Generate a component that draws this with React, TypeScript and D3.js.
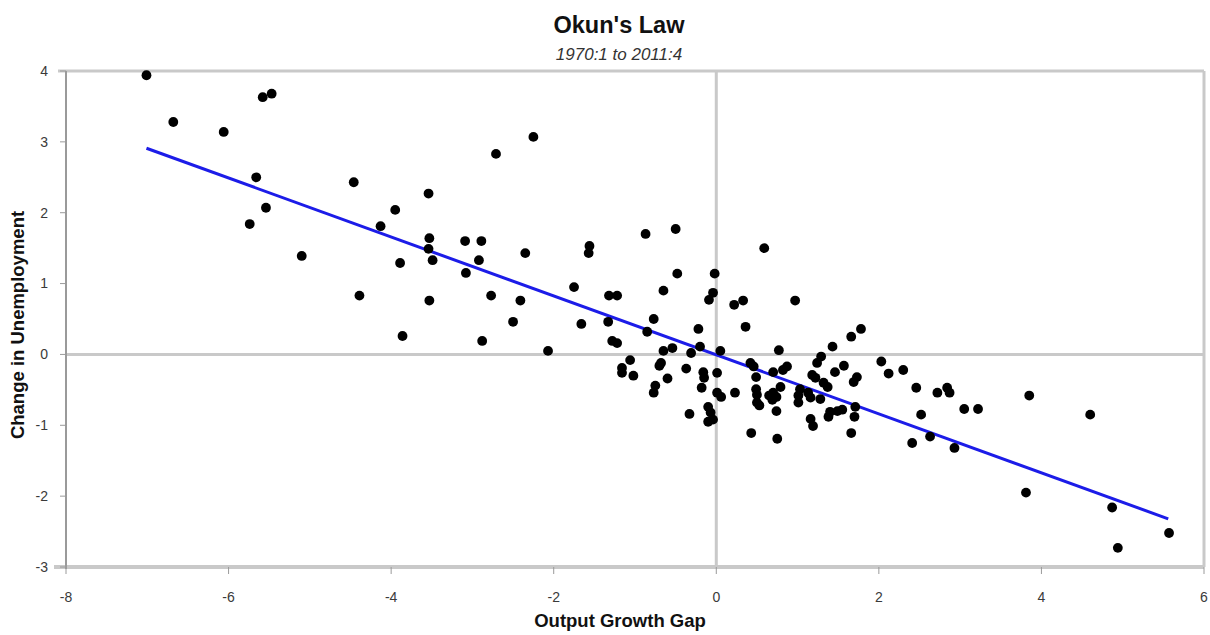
import * as d3 from "d3";

// output growth gap (x) and change in unemployment (y)
const gapX = [
  -7.01, -6.68, -6.06, -5.58, -5.47, -5.66, -5.54, -5.74, -5.1, -4.46,
  -3.95, -4.13, -4.39, -3.89, -3.86, -3.54, -3.53, -3.54, -3.49, -3.53,
  -3.09, -2.89, -2.92, -3.08, -2.88, -2.71, -2.25, -2.77, -2.41, -2.35,
  -2.5, -2.07, -1.56, -1.57, -1.75, -1.32, -1.22, -1.66, -1.33, -1.28,
  -1.22, -1.16, -1.16, -1.06, -1.02, -0.87, -0.5, -0.65, -0.48, -0.02,
  -0.04, -0.09, 0.22, -0.77, -0.85, -0.22, -0.65, -0.54, -0.31, -0.2,
  0.05, -0.7, -0.68, -0.37, -0.6, -0.16, -0.15, 0.01, -0.18, -0.75,
  -0.77, 0.01, 0.06, 0.23, -0.33, -0.1, -0.07, -0.1, -0.04, 0.59,
  0.33, 0.97, 0.36, 1.66, 1.78, 0.77, 1.43, 1.29, 1.24, 2.03,
  2.12, 0.42, 0.46, 0.87, 0.82, 0.7, 1.57, 1.46, 0.49, 1.18,
  1.22, 1.73, 1.69, 1.32, 1.37, 0.79, 0.7, 0.65, 0.49, 0.5,
  1.03, 1.01, 1.13, 1.16, 1.28, 0.74, 0.69, 0.5, 0.53, 1.01,
  1.4, 1.49, 1.55, 1.71, 1.7, 1.38, 0.74, 1.16, 1.19, 0.43,
  0.75, 1.66, 2.3, 2.46, 2.72, 2.84, 2.87, 3.05, 3.22, 3.85,
  4.6, 2.52, 2.41, 2.63, 2.93, 3.81, 4.87, 5.57, 4.94,
];
const unempY = [
  3.94, 3.28, 3.14, 3.63, 3.68, 2.5, 2.07, 1.84, 1.39, 2.43,
  2.04, 1.81, 0.83, 1.29, 0.26, 2.27, 1.64, 1.49, 1.33, 0.76,
  1.6, 1.6, 1.33, 1.15, 0.19, 2.83, 3.07, 0.83, 0.76, 1.43,
  0.46, 0.05, 1.53, 1.43, 0.95, 0.83, 0.83, 0.43, 0.46, 0.19,
  0.16, -0.19, -0.26, -0.08, -0.3, 1.7, 1.77, 0.9, 1.14, 1.14,
  0.87, 0.77, 0.7, 0.5, 0.32, 0.36, 0.05, 0.09, 0.02, 0.11,
  0.05, -0.16, -0.12, -0.2, -0.34, -0.25, -0.33, -0.26, -0.47, -0.44,
  -0.54, -0.54, -0.6, -0.54, -0.84, -0.74, -0.82, -0.95, -0.92, 1.5,
  0.76, 0.76, 0.39, 0.25, 0.36, 0.06, 0.11, -0.03, -0.12, -0.1,
  -0.27, -0.12, -0.17, -0.17, -0.22, -0.25, -0.16, -0.25, -0.32, -0.29,
  -0.33, -0.32, -0.39, -0.4, -0.46, -0.46, -0.54, -0.58, -0.49, -0.57,
  -0.49, -0.58, -0.54, -0.61, -0.63, -0.6, -0.64, -0.68, -0.72, -0.68,
  -0.81, -0.8, -0.78, -0.74, -0.88, -0.88, -0.8, -0.91, -1.01, -1.11,
  -1.19, -1.11, -0.22, -0.47, -0.54, -0.47, -0.54, -0.77, -0.77, -0.58,
  -0.85, -0.85, -1.25, -1.16, -1.32, -1.95, -2.16, -2.52, -2.73,
];

// fitted line end points
const fitX = [-7.01, 5.56];
const fitY = [2.91, -2.32];

const xTicks = [-8, -6, -4, -2, 0, 2, 4, 6];
const yTicks = [4, 3, 2, 1, 0, -1, -2, -3];

const W = 1210;
const H = 635;
const LEFT = 66;
const RIGHT = 1204;
const TOP = 71;
const BOTTOM = 567;
const FONT = "Liberation Sans, Arial, Helvetica, sans-serif";
const GRID = "#c9c9c9";

export default function App() {
  const x = d3.scaleLinear().domain([-8, 6]).range([LEFT, RIGHT]);
  const y = d3.scaleLinear().domain([-3, 4]).range([BOTTOM, TOP]);
  const points = gapX.map((v, i) => ({ gx: v, uy: unempY[i] }));
  const fitLine = d3
    .line<number>()
    .x((d) => x(d))
    .y((_, i) => y(fitY[i]));

  return (
    <svg
      width={W}
      height={H}
      style={{ position: "absolute", left: 0, top: 0, background: "#fff" }}
      fontFamily={FONT}
    >
      <text x={619} y={33} textAnchor="middle" fontSize={23.5} fontWeight="bold" fill="#111">
        Okun's Law
      </text>
      <text x={619} y={60} textAnchor="middle" fontSize={17} fontStyle="italic" fill="#333">
        1970:1 to 2011:4
      </text>

      {/* frame */}
      <line x1={LEFT - 8} x2={RIGHT} y1={y(4)} y2={y(4)} stroke={GRID} strokeWidth={3} />
      <line x1={LEFT - 12} x2={RIGHT} y1={y(-3)} y2={y(-3)} stroke={GRID} strokeWidth={4} />
      <line x1={x(6)} x2={x(6)} y1={TOP} y2={BOTTOM} stroke={GRID} strokeWidth={3} />
      <line x1={x(0)} x2={x(0)} y1={TOP} y2={BOTTOM} stroke={GRID} strokeWidth={3} />
      <line x1={LEFT} x2={RIGHT} y1={y(0)} y2={y(0)} stroke={GRID} strokeWidth={3} />
      <line x1={LEFT} x2={LEFT} y1={TOP} y2={BOTTOM + 2} stroke="#9a9a9a" strokeWidth={2} />

      {yTicks.map((t) => (
        <g key={`y${t}`}>
          <line x1={LEFT - 6} x2={LEFT} y1={y(t)} y2={y(t)} stroke="#9a9a9a" strokeWidth={1} />
          <text x={48} y={y(t)} dy="0.35em" textAnchor="end" fontSize={14} fill="#3a3a3a">
            {t}
          </text>
        </g>
      ))}
      {xTicks.map((t) => (
        <g key={`x${t}`}>
          <line x1={x(t)} x2={x(t)} y1={BOTTOM} y2={BOTTOM + 7} stroke="#9a9a9a" strokeWidth={1} />
          <text x={x(t)} y={602} textAnchor="middle" fontSize={14} fill="#3a3a3a">
            {t}
          </text>
        </g>
      ))}

      <text x={620} y={627} textAnchor="middle" fontSize={18.5} fontWeight="bold" fill="#111">
        Output Growth Gap
      </text>
      <text
        transform={`translate(24,${325}) rotate(-90)`}
        textAnchor="middle"
        fontSize={18.5}
        fontWeight="bold"
        fill="#111"
      >
        Change in Unemployment
      </text>

      <path d={fitLine(fitX) ?? ""} fill="none" stroke="#1c1ce8" strokeWidth={3} />

      {points.map((p, i) => (
        <circle key={i} cx={x(p.gx)} cy={y(p.uy)} r={4.9} fill="#000" />
      ))}
    </svg>
  );
}
